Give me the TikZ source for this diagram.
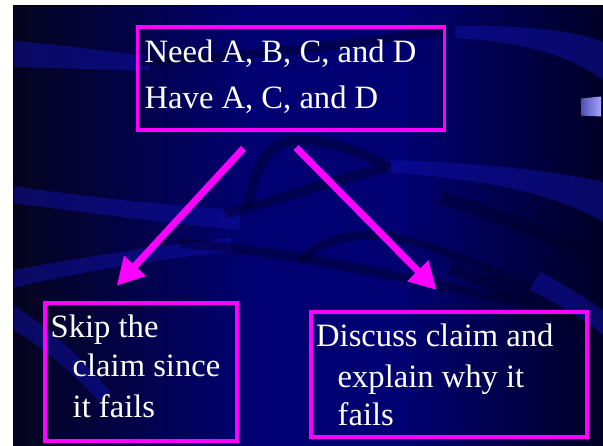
\documentclass[tikz,border=0pt]{standalone}
\usepackage{fontspec}
\setmainfont{Liberation Serif}
\usetikzlibrary{arrows.meta}

\definecolor{bgL}{HTML}{04041E}
\definecolor{bgM}{HTML}{000072}
\definecolor{bgR}{HTML}{000024}
\definecolor{ribbonL}{HTML}{1010A8}
\definecolor{ribbonD}{HTML}{00002A}
\definecolor{pink}{HTML}{FF00FF}
\definecolor{tabL}{HTML}{5050B0}
\definecolor{tabR}{HTML}{A4A4FF}

\tikzset{
  lightribbon/.style={fill=ribbonL, fill opacity=0.5},
  darkribbon/.style={draw=ribbonD, draw opacity=0.45, line cap=butt},
  framebox/.style={draw=pink, line width=3.6pt, rectangle, inner sep=0pt},
  label/.style={anchor=base west, inner sep=0pt, text=white,
    font=\fontsize{32.6}{40}\selectfont},
  bigarrow/.style={draw=pink, line width=7pt, line cap=butt,
    -{Triangle[length=27pt,width=28pt]}},
}

\begin{document}
\begin{tikzpicture}[x=1pt,y=-1pt]
\useasboundingbox (0,0) rectangle (603,445);
\fill[white] (0,0) rectangle (603,445);

% slide background: dark edges, brighter navy in the middle
\begin{scope}
  \clip (13,5) rectangle (603,445);
  \shade[left color=bgL, right color=bgM] (13,0) rectangle (251,450);
  \fill[bgM] (250,0) rectangle (401,450);
  \shade[left color=bgM, right color=bgR] (400,0) rectangle (610,450);
  % ribbons
  \fill[lightribbon] (13,41) .. controls (60,44) and (110,52) .. (150,56)
    -- (150,70) .. controls (110,70) and (60,68) .. (13,67) -- cycle;
  \draw[darkribbon, line width=9pt] (140,62) .. controls (250,56) and (350,45) .. (446,30);
  \fill[lightribbon] (455,26) .. controls (520,25) and (575,30) .. (603,42)
    -- (603,80) .. controls (570,55) and (520,41) .. (455,38) -- cycle;
  \fill[lightribbon] (13,186) .. controls (80,196) and (160,205) .. (240,210)
    -- (240,230) .. controls (160,222) and (80,212) .. (13,203) -- cycle;
  \fill[lightribbon] (385,160) .. controls (470,162) and (550,170) .. (603,182)
    -- (603,222) .. controls (550,190) and (470,178) .. (385,172) -- cycle;
  \draw[darkribbon, line width=10pt] (225,214) .. controls (280,200) and (330,180) .. (390,167);
  \draw[darkribbon, line width=10pt] (248,208) .. controls (255,160) and (272,140) .. (300,140)
    .. controls (330,140) and (360,152) .. (390,167);
  \draw[darkribbon, line width=14pt] (440,198) .. controls (500,215) and (560,240) .. (603,262);
  \fill[lightribbon] (13,270) .. controls (80,258) and (160,245) .. (231,238)
    -- (231,252) .. controls (160,258) and (80,272) .. (13,288) -- cycle;
  \draw[darkribbon, line width=10pt] (180,243) .. controls (280,250) and (400,275) .. (603,322);
  \draw[darkribbon, line width=9pt] (300,262) .. controls (315,245) and (340,235) .. (370,235)
    .. controls (420,236) and (500,270) .. (603,330);
  \fill[lightribbon] (13,305) .. controls (45,325) and (80,355) .. (110,392)
    -- (100,402) .. controls (70,370) and (40,345) .. (13,330) -- cycle;
  \fill[lightribbon] (540,272) .. controls (565,285) and (585,298) .. (603,310)
    -- (603,335) .. controls (585,320) and (560,305) .. (530,290) -- cycle;
  \draw[darkribbon, line width=12pt] (450,268) .. controls (510,290) and (560,315) .. (603,345);
\end{scope}
\draw[black, line width=1pt] (13.5,445) -- (13.5,5.5) -- (603,5.5);

% side tab
\shade[left color=tabL, right color=tabR] (581,98.5) -- (601,96.5) -- (601,116.5) -- (581,115.5) -- cycle;

% boxes
\node[framebox, anchor=north west, minimum width=307pt, minimum height=103pt] (have) at (135.5,25) {};
\node[framebox, anchor=north west, minimum width=192pt, minimum height=138pt] (skip) at (43,301) {};
\node[framebox, anchor=north west, minimum width=276pt, minimum height=125pt] (discuss) at (309,310) {};

% texts
\node[label] (need1) at (144.5,62) {Need A, B, C, and D};
\node[label] (have1) at (144.5,108) {Have A, C, and D};
\node[label] (skip1) at (50.5,337) {Skip the};
\node[label] (skip2) at (72.5,376) {claim since};
\node[label] (skip3) at (72.5,417) {it fails};
\node[label] (disc1) at (316,346) {Discuss claim and};
\node[label] (disc2) at (337.5,387) {explain why it};
\node[label] (disc3) at (337.5,425) {fails};

% arrows
\coordinate (la) at (243.5,148.3);
\coordinate (lb) at (116.7,285.7);
\coordinate (ra) at (296,147.5);
\coordinate (rb) at (436.7,290);
\draw[bigarrow] (la) -- (lb);
\draw[bigarrow] (ra) -- (rb);
\end{tikzpicture}
\end{document}
